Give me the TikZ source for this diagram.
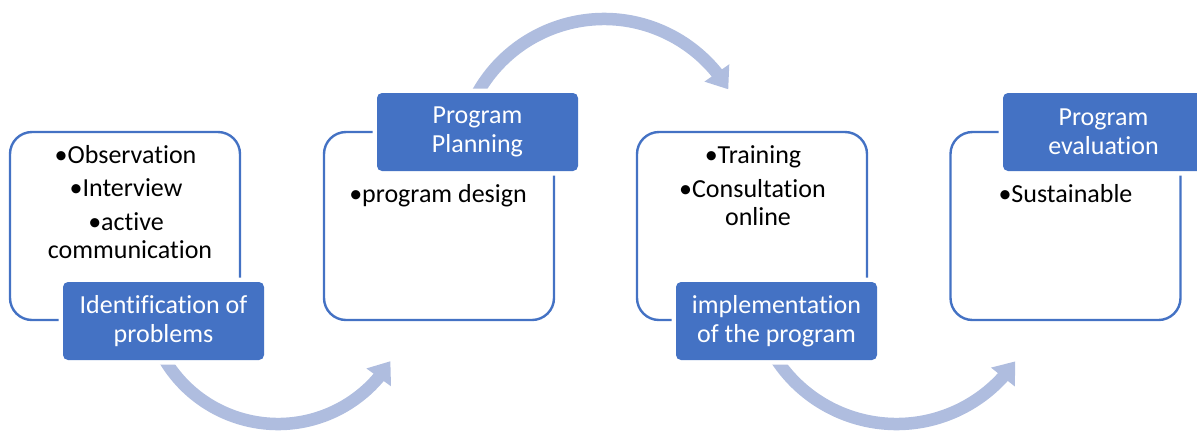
\documentclass[tikz,border=0pt]{standalone}
\usepackage{fontspec}
\setmainfont{Carlito}[Ligatures={NoCommon}]
\usetikzlibrary{arrows.meta,bending}
\definecolor{boxblue}{RGB}{68,114,196}
\definecolor{arrowblue}{RGB}{175,189,223}
\begin{document}
\begin{tikzpicture}[x=1pt,y=-1pt,
  stage/.style={draw=boxblue,line width=2.4pt,fill=white,rounded corners=22pt,
    minimum width=230pt,minimum height=188pt,inner sep=0pt},
  tag/.style={fill=boxblue,preaction={draw=white,line width=9pt},rounded corners=5pt,
    minimum width=201pt,minimum height=78pt,inner sep=0pt,text=white,align=center,
    font=\fontsize{26}{29}\selectfont},
  item/.style={anchor=base,inner sep=0pt,font=\fontsize{26}{29}\selectfont},
  flow/.style={draw=arrowblue,line width=12.5pt,-{Triangle[length=20pt,width=29pt,flex]}}]
\useasboundingbox (0,0) rectangle (1197,432);
\clip (0,0) rectangle (1197,432);

% arrows
\coordinate (c1) at (278,292);
\coordinate (c2) at (604,164);
\coordinate (c3) at (896.5,280);
\path (c1) ++(152:132) coordinate (a1s);
\path (c2) ++(207:145) coordinate (a2s);
\path (c3) ++(150:144) coordinate (a3s);
\draw[flow] (a1s) arc[start angle=152,end angle=31.6,radius=132];
\draw[flow] (a2s) arc[start angle=207,end angle=329,radius=145];
\draw[flow] (a3s) arc[start angle=150,end angle=34.4,radius=144];

% stage boxes
\node[stage] (s1) at (125,226) {};
\node[stage] (s2) at (439,226) {};
\node[stage] (s3) at (752,226) {};
\node[stage] (s4) at (1065.5,226) {};

% labels
\node[tag] (t1) at (163.5,321) {Identification of\\problems};
\node[tag] (t2) at (477.5,132) {Program\\Planning};
\node[tag] (t3) at (776.5,321) {implementation\\of the program};
\node[tag] (t4) at (1103.5,132) {Program\\evaluation};

% contents
\node[item] (i11) at (125.5,163) {•Observation};
\node[item] (i12) at (126,196) {•Interview};
\node[item] (i13) at (126,230) {•active};
\node[item] (i14) at (130,258) {communication};
\node[item] (i21) at (438,202) {•program design};
\node[item] (i31) at (753,163) {•Training};
\node[item] (i32) at (752.5,197) {•Consultation};
\node[item] (i33) at (758,225) {online};
\node[item] (i41) at (1065.5,202) {•Sustainable};
\end{tikzpicture}
\end{document}
